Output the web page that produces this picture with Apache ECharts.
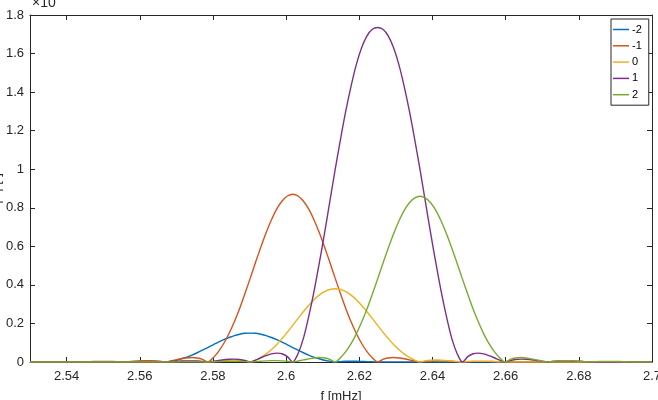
<!DOCTYPE html>
<html>
<head>
<meta charset="utf-8">
<script src="https://cdn.jsdelivr.net/npm/echarts@6/dist/echarts.min.js"></script>
<style>
    html, body { margin: 0; padding: 0; background: #fff; }
    #spectrum { width: 658px; height: 400px; }
</style>
</head>
<body>
<div id="spectrum"></div>
<script>
// frequency samples [mHz], shared by all five curves
var freq = [2.53,
    2.53220, 2.53365, 2.53510, 2.53655, 2.53800, 2.53945, 2.54090, 2.54235, 2.54380, 2.54525,
    2.54670, 2.54815, 2.54960, 2.55105, 2.55250, 2.55395, 2.55540, 2.55685, 2.55830, 2.55975,
    2.56120, 2.56265, 2.56410, 2.56555, 2.56700, 2.56845, 2.56990, 2.57135, 2.57280, 2.57425,
    2.57570, 2.57715, 2.57860, 2.58005, 2.58150, 2.58295, 2.58440, 2.58585, 2.58730, 2.58875,
    2.59020, 2.59165, 2.59310, 2.59455, 2.59600, 2.59745, 2.59890, 2.60035, 2.60180, 2.60325,
    2.60470, 2.60615, 2.60760, 2.60905, 2.61050, 2.61195, 2.61340, 2.61485, 2.61630, 2.61775,
    2.61920, 2.62065, 2.62210, 2.62355, 2.62500, 2.62645, 2.62790, 2.62935, 2.63080, 2.63225,
    2.63370, 2.63515, 2.63660, 2.63805, 2.63950, 2.64095, 2.64240, 2.64385, 2.64530, 2.64675,
    2.64820, 2.64965, 2.65110, 2.65255, 2.65400, 2.65545, 2.65690, 2.65835, 2.65980, 2.66125,
    2.66270, 2.66415, 2.66560, 2.66705, 2.66850, 2.66995, 2.67140, 2.67285, 2.67430, 2.67575,
    2.67720, 2.67865, 2.68010, 2.68155, 2.68300, 2.68445, 2.68590, 2.68735, 2.68880, 2.69025,
    2.69170, 2.69315, 2.69460, 2.69605, 2.69750,
    2.70];

// amplitude of each mode, in units of 1e-13 (same length as freq)
var modeM2 = [0,
    0, 0, 0, 0, 0, 0, 0, 0, 0, 0,
    0, 0, 0, 0, 0, 0, 0, 0.001, 0.002, 0.003,
    0.004, 0.004, 0.004, 0.002, 0, 0.004, 0.009, 0.017, 0.025, 0.036,
    0.048, 0.061, 0.075, 0.089, 0.103, 0.116, 0.127, 0.137, 0.144, 0.149,
    0.150, 0.149, 0.144, 0.137, 0.127, 0.116, 0.103, 0.089, 0.075, 0.061,
    0.048, 0.036, 0.025, 0.017, 0.009, 0.004, 0, 0.002, 0.004, 0.004,
    0.004, 0.003, 0.002, 0.001, 0, 0, 0, 0, 0, 0,
    0, 0, 0, 0, 0, 0, 0, 0, 0, 0,
    0, 0, 0, 0, 0, 0, 0, 0, 0, 0,
    0, 0, 0, 0, 0, 0, 0, 0, 0, 0,
    0, 0, 0, 0, 0, 0, 0, 0, 0, 0,
    0, 0, 0, 0, 0,
    0];
var modeM1 = [0,
    0, 0, 0, 0, 0, 0, 0, 0, 0, 0.001,
    0.002, 0.003, 0.003, 0.003, 0.003, 0.002, 0, 0.002, 0.004, 0.006,
    0.007, 0.007, 0.006, 0.004, 0, 0.005, 0.011, 0.017, 0.021, 0.023,
    0.021, 0.014, 0, 0.022, 0.054, 0.096, 0.148, 0.209, 0.278, 0.355,
    0.435, 0.517, 0.597, 0.672, 0.738, 0.794, 0.835, 0.861, 0.870, 0.861,
    0.835, 0.794, 0.738, 0.672, 0.597, 0.517, 0.435, 0.355, 0.278, 0.209,
    0.148, 0.096, 0.054, 0.022, 0, 0.014, 0.021, 0.023, 0.021, 0.017,
    0.011, 0.005, 0, 0.004, 0.006, 0.007, 0.007, 0.006, 0.004, 0.002,
    0, 0.002, 0.003, 0.003, 0.003, 0.003, 0.002, 0.001, 0, 0,
    0, 0, 0, 0, 0, 0, 0, 0, 0, 0,
    0, 0, 0, 0, 0, 0, 0, 0, 0, 0,
    0, 0, 0, 0, 0,
    0];
var mode0 = [0,
    0, 0, 0, 0, 0, 0, 0, 0, 0, 0,
    0, 0, 0, 0, 0, 0, 0, 0, 0, 0,
    0, 0, 0, 0, 0, 0.001, 0.002, 0.003, 0.003, 0.003,
    0.003, 0.002, 0, 0.002, 0.005, 0.007, 0.009, 0.010, 0.009, 0.006,
    0, 0.010, 0.024, 0.042, 0.065, 0.091, 0.122, 0.155, 0.190, 0.226,
    0.261, 0.293, 0.323, 0.347, 0.365, 0.376, 0.380, 0.376, 0.365, 0.347,
    0.323, 0.293, 0.261, 0.226, 0.190, 0.155, 0.122, 0.091, 0.065, 0.042,
    0.024, 0.010, 0, 0.006, 0.009, 0.010, 0.009, 0.007, 0.005, 0.002,
    0, 0.002, 0.003, 0.003, 0.003, 0.003, 0.002, 0.001, 0, 0,
    0, 0, 0, 0, 0, 0, 0, 0, 0, 0,
    0, 0, 0, 0, 0, 0, 0, 0, 0, 0,
    0, 0, 0, 0, 0,
    0];
var modeP1 = [0,
    0, 0, 0, 0, 0, 0, 0, 0, 0, 0,
    0, 0, 0, 0, 0, 0, 0, 0, 0, 0,
    0, 0, 0, 0, 0, 0.002, 0.004, 0.005, 0.006, 0.006,
    0.005, 0.003, 0, 0.004, 0.008, 0.012, 0.014, 0.015, 0.013, 0.008,
    0, 0.010, 0.022, 0.033, 0.042, 0.046, 0.043, 0.028, 0, 0.043,
    0.121, 0.234, 0.364, 0.512, 0.668, 0.833, 0.998, 1.154, 1.301, 1.431,
    1.544, 1.631, 1.692, 1.726, 1.735, 1.726, 1.692, 1.631, 1.544, 1.431,
    1.301, 1.154, 0.998, 0.833, 0.668, 0.512, 0.364, 0.234, 0.121, 0.043,
    0, 0.028, 0.043, 0.046, 0.042, 0.033, 0.022, 0.010, 0, 0.008,
    0.013, 0.015, 0.014, 0.012, 0.008, 0.004, 0, 0.003, 0.005, 0.006,
    0.006, 0.005, 0.004, 0.002, 0, 0, 0, 0, 0, 0,
    0, 0, 0, 0, 0,
    0];
var modeP2 = [0,
    0, 0, 0, 0, 0, 0, 0, 0, 0, 0,
    0, 0, 0, 0, 0, 0, 0, 0, 0, 0,
    0, 0, 0, 0, 0, 0, 0, 0, 0, 0,
    0, 0, 0, 0.001, 0.002, 0.003, 0.003, 0.003, 0.003, 0.002,
    0, 0.002, 0.004, 0.006, 0.007, 0.007, 0.006, 0.004, 0, 0.005,
    0.011, 0.016, 0.021, 0.023, 0.021, 0.014, 0, 0.022, 0.054, 0.095,
    0.146, 0.207, 0.275, 0.351, 0.430, 0.511, 0.590, 0.664, 0.730, 0.785,
    0.826, 0.851, 0.860, 0.851, 0.826, 0.785, 0.730, 0.664, 0.590, 0.511,
    0.430, 0.351, 0.275, 0.207, 0.146, 0.095, 0.054, 0.022, 0, 0.014,
    0.021, 0.023, 0.021, 0.016, 0.011, 0.005, 0, 0.004, 0.006, 0.007,
    0.007, 0.006, 0.004, 0.002, 0, 0.002, 0.003, 0.003, 0.003, 0.003,
    0.002, 0.001, 0, 0, 0,
    0];

var modeNames = ['-2', '-1', '0', '1', '2'];
var modeColors = ['#0072BD', '#D95319', '#EDB120', '#7E2F8E', '#77AC30'];
var xTicks = [2.54, 2.56, 2.58, 2.6, 2.62, 2.64, 2.66, 2.68, 2.7];

var axisColor = '#262626';
var fontName = '"Liberation Sans", Arial, Helvetica, sans-serif';

function pairs(values) {
    var out = [];
    for (var i = 0; i < freq.length; i++) {
        out.push([freq[i], values[i]]);
    }
    return out;
}

function boxXAxis(position, withLabels) {
    return {
        type: 'value',
        position: position,
        min: 2.53,
        max: 2.7,
        name: withLabels ? 'f [mHz]' : '',
        nameLocation: 'middle',
        nameGap: 28,
        nameMoveOverlap: false,
        nameTextStyle: { color: axisColor, fontSize: 13, fontFamily: fontName },
        axisLine: { show: true, onZero: false, lineStyle: { color: axisColor, width: 1 } },
        axisTick: { show: true, inside: true, length: 5, customValues: xTicks, lineStyle: { color: axisColor } },
        axisLabel: { show: withLabels, customValues: xTicks, margin: 8, color: axisColor, fontSize: 13, fontFamily: fontName },
        splitLine: { show: false }
    };
}

function boxYAxis(position, withLabels) {
    return {
        type: 'value',
        position: position,
        min: 0,
        max: 1.8,
        interval: 0.2,
        name: withLabels ? '|S| [-]' : '',
        nameLocation: 'middle',
        nameGap: 27,
        nameMoveOverlap: false,
        nameTextStyle: { color: axisColor, fontSize: 13, fontFamily: fontName },
        axisLine: { show: true, onZero: false, lineStyle: { color: axisColor, width: 1 } },
        axisTick: { show: true, inside: true, length: 5, lineStyle: { color: axisColor } },
        axisLabel: { show: withLabels, margin: 6, color: axisColor, fontSize: 13, fontFamily: fontName },
        splitLine: { show: false }
    };
}

var modes = [modeM2, modeM1, mode0, modeP1, modeP2];
var series = [];
for (var k = 0; k < modes.length; k++) {
    series.push({
        name: modeNames[k],
        type: 'line',
        xAxisIndex: 0,
        yAxisIndex: 0,
        data: pairs(modes[k]),
        smooth: 0.3,
        symbol: 'none',
        silent: true,
        lineStyle: { color: modeColors[k], width: 1.4 },
        itemStyle: { color: modeColors[k] }
    });
}

var option = {
    animation: false,
    backgroundColor: '#ffffff',
    grid: { left: 30, right: 6, top: 15, bottom: 38, containLabel: false, outerBoundsMode: 'none' },
    legend: {
        orient: 'vertical',
        left: 611,
        top: 19,
        padding: [4, 7, 4, 2],
        icon: 'rect',
        itemWidth: 16,
        itemHeight: 1.5,
        itemGap: 3.3,
        backgroundColor: '#ffffff',
        borderColor: axisColor,
        borderWidth: 1,
        data: modeNames,
        textStyle: { color: '#000', fontSize: 11, fontFamily: fontName, lineHeight: 13, padding: [0, 0, 0, -2] }
    },
    xAxis: [boxXAxis('bottom', true), boxXAxis('top', false)],
    yAxis: [boxYAxis('left', true), boxYAxis('right', false)],
    graphic: [
        { type: 'text', left: 32, top: -4, style: { text: '×10', fill: axisColor, fontSize: 14, fontFamily: fontName } },
        { type: 'text', left: 57, top: -8, style: { text: '-13', fill: axisColor, fontSize: 10, fontFamily: fontName } }
    ],
    series: series
};

var myChart = echarts.init(document.getElementById('spectrum'));
myChart.setOption(option);
</script>
</body>
</html>
